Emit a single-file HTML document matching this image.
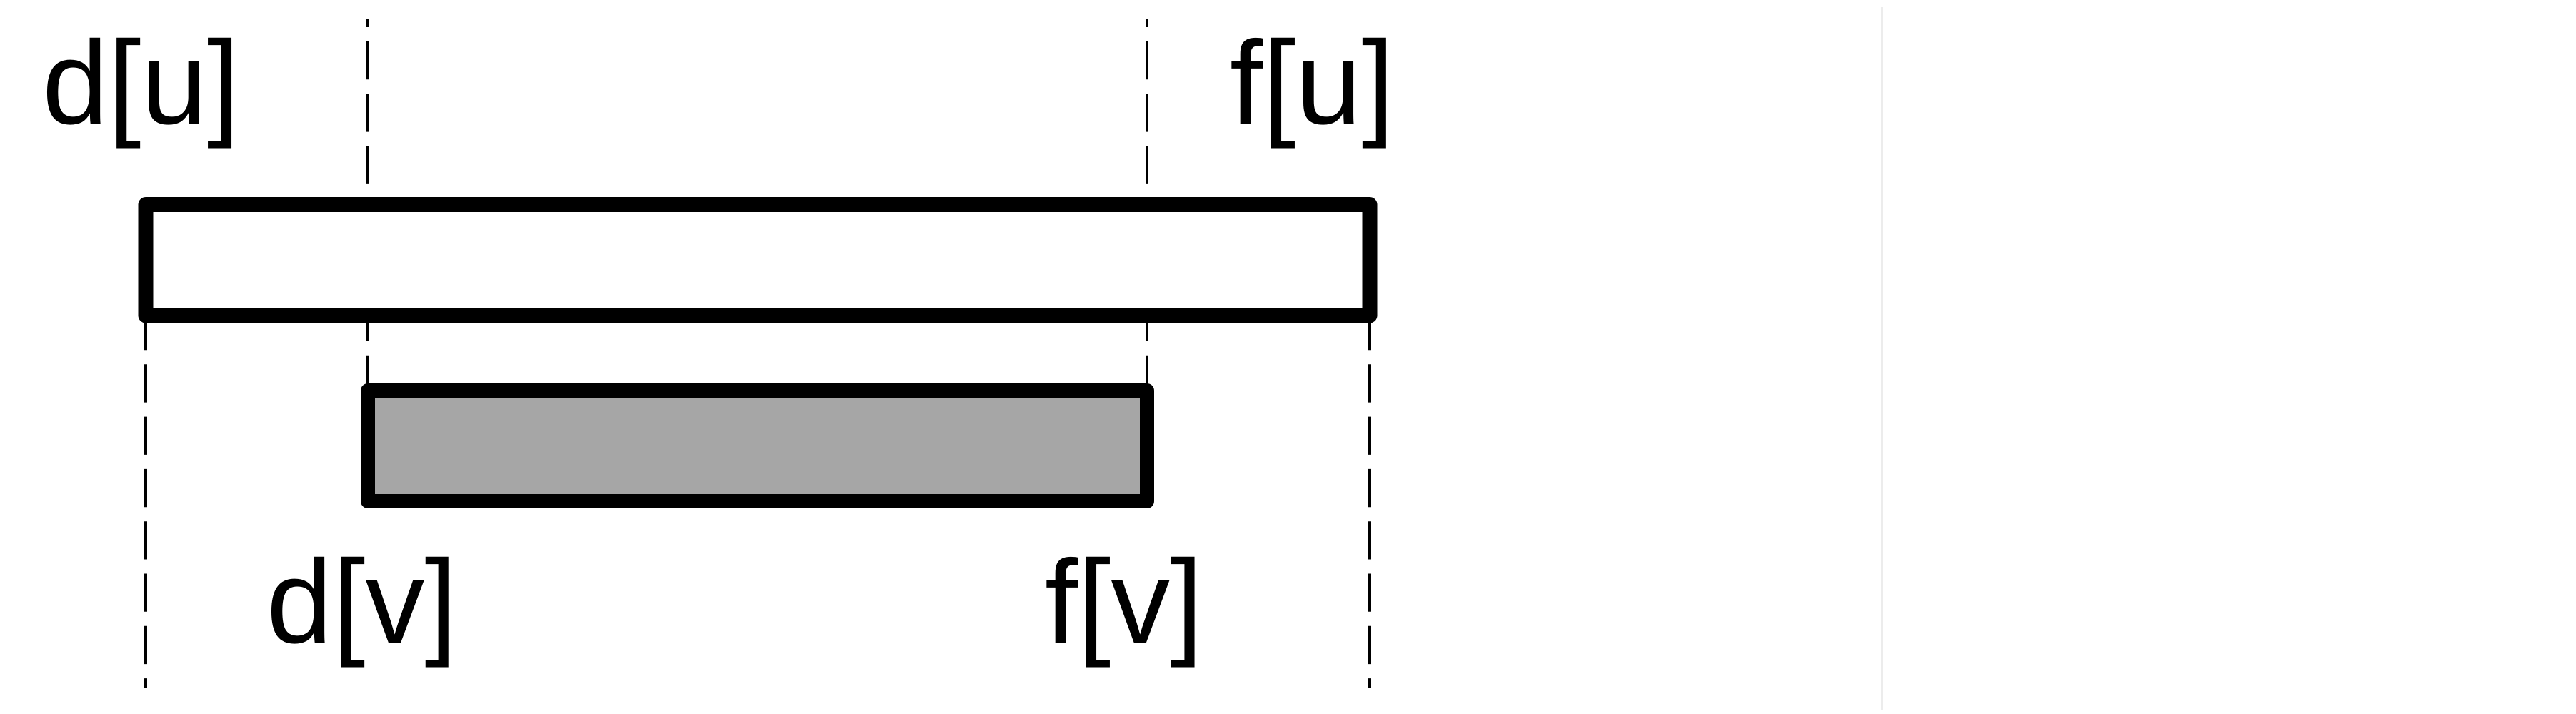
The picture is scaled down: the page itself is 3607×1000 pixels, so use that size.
<!DOCTYPE html>
<html>
<head>
<meta charset="utf-8">
<style>
  html, body { margin: 0; padding: 0; background: #ffffff; }
  body { width: 3607px; height: 1000px; overflow: hidden; }
  svg { display: block; }
  text { font-family: "Liberation Sans", Arial, sans-serif; font-size: 166px; fill: #000; }
</style>
</head>
<body>
<svg width="3607" height="1000" viewBox="0 0 3607 1000" xmlns="http://www.w3.org/2000/svg">
  <rect x="0" y="0" width="3607" height="1000" fill="#ffffff"/>

  <!-- dashed guide lines -->
  <g stroke="#000" stroke-width="4" stroke-dasharray="53.3 20" fill="none">
    <line x1="515" y1="27" x2="515" y2="547" stroke-dashoffset="42.3"/>
    <line x1="1606" y1="27" x2="1606" y2="547" stroke-dashoffset="42.3"/>
    <line x1="204" y1="442" x2="204" y2="963" stroke-dashoffset="5"/>
    <line x1="1918" y1="442" x2="1918" y2="963" stroke-dashoffset="5"/>
  </g>

  <!-- white interval u -->
  <rect x="204" y="286.5" width="1714" height="155.5" fill="#ffffff" stroke="#000" stroke-width="21" stroke-linejoin="round"/>

  <!-- gray interval v -->
  <rect x="515" y="547" width="1091" height="155" fill="#a6a6a6" stroke="#000" stroke-width="20" stroke-linejoin="round"/>

  <!-- labels -->
  <text x="59" y="173">d[u]</text>
  <text x="1722" y="173">f[u]</text>
  <text x="373" y="900">d[v]</text>
  <text x="1463" y="900">f[v]</text>

  <!-- faint separator on right -->
  <rect x="2634" y="10" width="3" height="985" fill="#ececec"/>
</svg>
</body>
</html>
